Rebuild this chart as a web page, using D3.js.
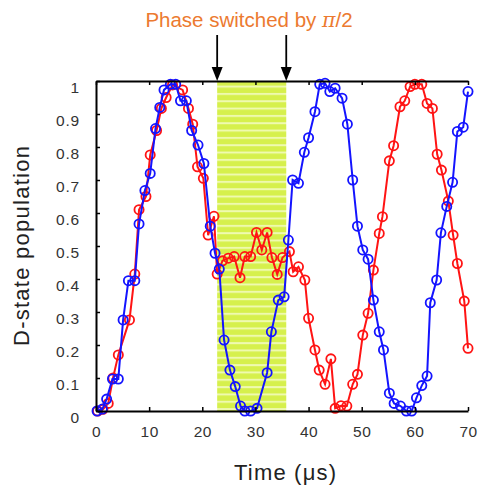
<!DOCTYPE html>
<html>
<head>
<meta charset="utf-8">
<script src="https://cdn.jsdelivr.net/npm/d3@7"></script>
<style>
body { margin: 0; background: #fff; }
svg { font-family: Arial, "Liberation Sans", sans-serif; }
</style>
</head>
<body>
<svg id="chart" width="483" height="487"></svg>
<script>
// blue series: [time (us), population]
const blueT = [0.2, 1.2, 2, 3.1, 4.2, 5.1, 6.1, 7.3, 8.1, 9.2, 10.2, 11.2, 12, 12.8, 14, 15, 15.9, 17, 18, 19.2, 20.3, 21.5, 22.4, 23.2,
  24.1, 25.2, 26.2, 27.2, 28, 29.1, 30.3, 32.2, 33, 34.3, 35.4, 36.2, 37, 38.1, 39.2, 40, 41.2, 42.1, 43.1, 44, 45, 46.3,
  47.3, 48.3, 49.2, 50.2, 51.2, 52.2, 53.3, 54.1, 55.2, 56.1, 57.3, 58.4, 59.4, 60.3, 61.3, 62.3, 62.9, 64.1, 64.9, 66,
  67.1, 68, 69.1, 70];
const blueV = [0, 0.006, 0.036, 0.097, 0.097, 0.276, 0.395, 0.395, 0.567, 0.668, 0.72, 0.856, 0.92, 0.973, 0.99, 0.99, 0.94, 0.94, 0.85, 0.806, 0.75, 0.56, 0.478, 0.43,
  0.215, 0.124, 0.074, 0.015, 0, 0, 0.008, 0.116, 0.24, 0.336, 0.346, 0.518, 0.7, 0.69, 0.784, 0.828, 0.907, 0.99, 0.993, 0.968, 0.978, 0.948,
  0.869, 0.7, 0.56, 0.488, 0.46, 0.336, 0.24, 0.185, 0.054, 0.023, 0.015, 0, 0, 0.04, 0.077, 0.106, 0.328, 0.397, 0.54, 0.62,
  0.693, 0.847, 0.86, 0.968];

// red series
const redT = [0.3, 1.3, 2.3, 3.2, 4.2, 6.3, 7.3, 8.1, 9.4, 10.2, 11.4, 12.3, 13.2, 14.4, 16.3, 17.4, 18.2, 19.1, 20.2, 21.1, 22.2, 22.8,
  23.8, 24.9, 26, 27.1, 28, 29.1, 30.2, 31.2, 32.2, 33.1, 34.1, 35.1, 36.4, 37.1, 38.1, 39.3, 40, 41.2, 42, 43.1, 44.2, 45,
  46.1, 47.2, 48.3, 49.2, 50.2, 51.2, 52.2, 53.3, 53.9, 55.2, 56, 57.2, 58.1, 59.1, 60, 61.3, 62.3, 63.3, 64.2, 65, 66.3,
  67.2, 68, 69.3, 70];
const redV = [0, 0.005, 0.023, 0.1, 0.17, 0.276, 0.415, 0.61, 0.65, 0.776, 0.85, 0.917, 0.95, 0.988, 0.973, 0.917, 0.869, 0.74, 0.705, 0.533, 0.59, 0.415,
  0.455, 0.463, 0.468, 0.404, 0.468, 0.468, 0.541, 0.488, 0.541, 0.465, 0.414, 0.465, 0.483, 0.422, 0.437, 0.397, 0.281, 0.185, 0.124, 0.081, 0.158, 0.008,
  0.016, 0.015, 0.081, 0.111, 0.23, 0.296, 0.427, 0.538, 0.589, 0.758, 0.804, 0.922, 0.94, 0.983, 0.99, 0.99, 0.932, 0.917, 0.778, 0.73, 0.636,
  0.533, 0.447, 0.333, 0.19];

const xTicks = [0, 10, 20, 30, 40, 50, 60, 70];
const yTicks = [0, 0.1, 0.2, 0.3, 0.4, 0.5, 0.6, 0.7, 0.8, 0.9, 1];
const phaseWindow = [22.8, 35.8];

const svg = d3.select("#chart");
const plotLeft = 96, plotRight = 468, plotTop = 81, plotBottom = 411;

const x = d3.scaleLinear().domain([0, 70]).range([plotLeft, plotRight]);
const y = d3.scaleLinear().domain([0, 1]).range([plotBottom, plotTop]);

// striped shading for the phase switch window
const defs = svg.append("defs");
const pat = defs.append("pattern")
  .attr("id", "stripes")
  .attr("patternUnits", "userSpaceOnUse")
  .attr("width", 10).attr("height", 7.33)
  .attr("y", plotTop);
pat.append("rect").attr("width", 10).attr("height", 7.33).attr("fill", "#d6f04c");
pat.append("rect").attr("y", 4.6).attr("width", 10).attr("height", 2).attr("fill", "#effab0");

svg.append("rect")
  .attr("x", x(phaseWindow[0]))
  .attr("y", plotTop)
  .attr("width", x(phaseWindow[1]) - x(phaseWindow[0]))
  .attr("height", plotBottom - plotTop)
  .attr("fill", "url(#stripes)");

// series
const line = d3.line().x(d => x(d[0])).y(d => y(d[1]));
const series = [
  { t: redT, v: redV, color: "#ff1414" },
  { t: blueT, v: blueV, color: "#1414ff" }
];
series.forEach(s => {
  const pts = s.t.map((t, i) => [t, s.v[i]]);
  svg.append("path")
    .datum(pts)
    .attr("d", line)
    .attr("fill", "none")
    .attr("stroke", s.color)
    .attr("stroke-width", 2);
  svg.append("g").selectAll("circle")
    .data(pts)
    .join("circle")
    .attr("cx", d => x(d[0]))
    .attr("cy", d => y(d[1]))
    .attr("r", 4.6)
    .attr("fill", "none")
    .attr("stroke", s.color)
    .attr("stroke-width", 1.8);
});

// axes box with inward ticks on all sides
const styleAxis = g => {
  g.select(".domain").attr("stroke", "#000").attr("stroke-width", 2);
  g.selectAll(".tick line").attr("stroke", "#000").attr("stroke-width", 1.5);
};
svg.append("g")
  .attr("transform", `translate(0,${plotBottom})`)
  .call(d3.axisBottom(x).tickValues(xTicks).tickSize(-4).tickSizeOuter(0).tickPadding(15))
  .call(styleAxis)
  .call(g => g.selectAll("text").attr("font-size", 15.5).attr("fill", "#333").attr("letter-spacing", 0.5));
svg.append("g")
  .attr("transform", `translate(0,${plotTop})`)
  .call(d3.axisTop(x).tickValues(xTicks).tickSize(-4).tickSizeOuter(0).tickFormat(""))
  .call(styleAxis);
svg.append("g")
  .attr("transform", `translate(${plotLeft},0)`)
  .call(d3.axisLeft(y).tickValues(yTicks).tickSize(-4).tickSizeOuter(0).tickPadding(16).tickFormat(d3.format("~g")))
  .call(styleAxis)
  .call(g => g.selectAll("text").attr("font-size", 15.5).attr("fill", "#333").attr("dy", "0.76em").attr("letter-spacing", 0.8));

// axis titles
svg.append("text")
  .attr("x", 285).attr("y", 480)
  .attr("text-anchor", "middle")
  .attr("font-size", 22).attr("fill", "#222")
  .attr("textLength", 102).attr("lengthAdjust", "spacing")
  .text("Time (μs)");
svg.append("text")
  .attr("transform", "translate(29,246) rotate(-90)")
  .attr("text-anchor", "middle")
  .attr("font-size", 22).attr("fill", "#222")
  .attr("textLength", 200).attr("lengthAdjust", "spacing")
  .text("D-state population");

// annotation
const title = svg.append("text")
  .attr("x", 249).attr("y", 27)
  .attr("text-anchor", "middle")
  .attr("font-size", 20.5).attr("fill", "#ec7a30");
title.append("tspan").text("Phase switched by ");
title.append("tspan").attr("font-style", "italic").attr("font-family", "DejaVu Serif, serif").text("π");
title.append("tspan").text("/2");

phaseWindow.forEach(t => {
  svg.append("line")
    .attr("x1", x(t)).attr("x2", x(t))
    .attr("y1", 35).attr("y2", 70)
    .attr("stroke", "#000").attr("stroke-width", 1.8);
  svg.append("path")
    .attr("d", `M${x(t) - 5.5},67 L${x(t) + 5.5},67 L${x(t)},81 Z`)
    .attr("fill", "#000");
});
</script>
</body>
</html>
